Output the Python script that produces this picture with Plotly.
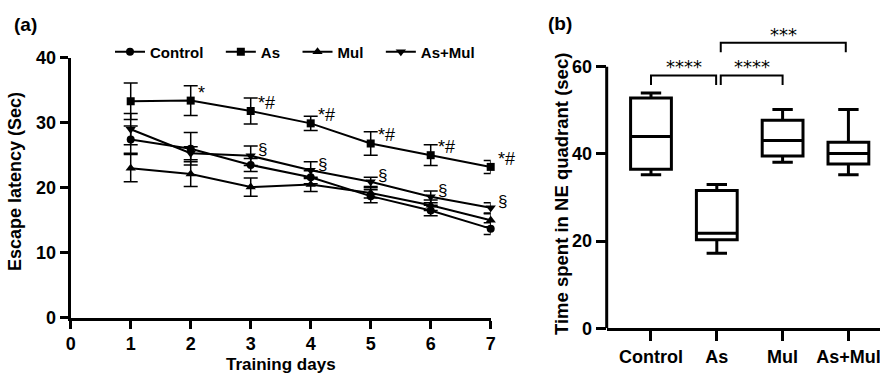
import plotly.graph_objects as go

# ---------------- data: panel (a) ----------------
days = [1, 2, 3, 4, 5, 6, 7]
control = [27.4, 26.0, 23.5, 21.6, 18.7, 16.5, 13.7]
control_err = [2.1, 2.5, 1.0, 1.0, 1.0, 0.8, 0.9]
as_vals = [33.3, 33.4, 31.8, 29.9, 26.8, 25.0, 23.2]
as_err = [2.8, 2.3, 2.0, 1.1, 1.8, 1.6, 1.0]
mul = [23.0, 22.1, 20.1, 20.5, 19.2, 17.3, 15.0]
mul_err = [2.1, 1.9, 1.4, 1.1, 0.8, 0.8, 1.0]
asmul = [29.0, 25.3, 24.9, 22.7, 20.9, 18.6, 16.9]
asmul_err = [2.4, 1.0, 1.5, 1.3, 0.7, 0.9, 0.8]
as_marks = ["", "*", "*#", "*#", "*#", "*#", "*#"]
asmul_marks = ["", "", "§", "§", "§", "§", "§"]
x_ticks_a = [0, 1, 2, 3, 4, 5, 6, 7]
y_ticks_a = [0, 10, 20, 30, 40]

# ---------------- data: panel (b) ----------------
groups = ["Control", "As", "Mul", "As+Mul"]
b_min = [35.2, 17.2, 38.1, 35.2]
b_q1 = [36.5, 20.3, 39.5, 37.7]
b_median = [44.0, 21.8, 43.1, 40.1]
b_q3 = [52.8, 31.6, 47.7, 42.7]
b_max = [54.0, 33.0, 50.2, 50.2]
y_ticks_b = [0, 20, 40, 60]
comparisons = [(0, 1, "****", 58.0), (1, 2, "****", 58.0), (1, 3, "***", 65.5)]

FONT = "Arial, Liberation Sans, sans-serif"
W, H = 880, 376
NB = "\u00a0"

fig = go.Figure()

series = [
    ("Control", control, control_err, "circle", 8),
    ("As", as_vals, as_err, "square", 8),
    ("Mul", mul, mul_err, "triangle-up", 9),
    ("As+Mul", asmul, asmul_err, "triangle-down", 9),
]
for name, vals, err, sym, sz in series:
    fig.add_trace(go.Scatter(
        x=days, y=vals, name=name + NB * 3, mode="lines+markers",
        line=dict(color="black", width=2),
        marker=dict(symbol=sym, size=sz, color="black"),
        error_y=dict(type="data", array=err, color="black", thickness=1.5, width=7),
        cliponaxis=False, xaxis="x", yaxis="y",
    ))

fig.add_trace(go.Box(
    x=groups, q1=b_q1, median=b_median, q3=b_q3,
    lowerfence=b_min, upperfence=b_max,
    fillcolor="white", line=dict(color="black", width=3),
    whiskerwidth=0.5, width=0.62, boxpoints=False,
    showlegend=False, xaxis="x2", yaxis="y2",
))

annotations = []
# significance marks, panel (a)
for d, v, m in zip(days, as_vals, as_marks):
    if m:
        annotations.append(dict(x=d, y=v, xref="x", yref="y", text=m, showarrow=False,
                                xanchor="left", yanchor="middle", xshift=5, yshift=8,
                                font=dict(family=FONT, size=18, color="black")))
for d, v, m in zip(days, asmul, asmul_marks):
    if m:
        annotations.append(dict(x=d, y=v, xref="x", yref="y", text=m, showarrow=False,
                                xanchor="left", yanchor="middle", xshift=5, yshift=6,
                                font=dict(family=FONT, size=17, color="black")))

shapes = []
# panel (b) left axis line (0..60)
shapes.append(dict(type="line", xref="paper", yref="y2", x0=606.7 / W, x1=606.7 / W,
                   y0=0, y1=60, line=dict(color="black", width=3)))
# comparison brackets
for i, j, lab, top in comparisons:
    leg = 2.2
    x0 = i + (0.06 if i == 1 else 0.0)
    x1 = j - (0.04 if (i == 1 and j == 3) else 0.0)
    if i == 0:
        x1 = j - 0.01
    shapes.append(dict(type="path", xref="x2", yref="y2",
                       path=f"M {x0},{top-leg} L {x0},{top} L {x1},{top} L {x1},{top-leg}",
                       line=dict(color="black", width=2)))
    annotations.append(dict(x=(x0 + x1) / 2, y=top + 2.9, xref="x2", yref="y2", text=lab,
                            showarrow=False, yanchor="middle", yshift=-4,
                            font=dict(family="DejaVu Sans", size=18, color="black")))

# titles / panel labels
annotations += [
    dict(x=12 / W, y=1 - 25 / H, xref="paper", yref="paper", text="<b>(a)</b>", showarrow=False,
         xanchor="left", yanchor="middle", font=dict(family=FONT, size=19, color="black")),
    dict(x=546 / W, y=1 - 24 / H, xref="paper", yref="paper", text="<b>(b)</b>", showarrow=False,
         xanchor="left", yanchor="middle", font=dict(family=FONT, size=19, color="black")),
    dict(x=15 / W, y=1 - 182 / H, xref="paper", yref="paper", text="<b>Escape latency (Sec)</b>",
         showarrow=False, textangle=-90, xanchor="center", yanchor="middle",
         font=dict(family=FONT, size=18, color="black")),
    dict(x=281 / W, y=1 - 364 / H, xref="paper", yref="paper", text="<b>Training days</b>",
         showarrow=False, xanchor="center", yanchor="middle",
         font=dict(family=FONT, size=17, color="black")),
    dict(x=561 / W, y=1 - 194 / H, xref="paper", yref="paper",
         text="<b>Time spent in NE quadrant (sec)</b>",
         showarrow=False, textangle=-90, xanchor="center", yanchor="middle",
         font=dict(family=FONT, size=18.5, color="black")),
]

tickfont_a = dict(family=FONT, size=18, color="black", weight="bold")
tickfont_b = dict(family=FONT, size=18, color="black", weight="bold")
axis_common = dict(showline=True, linecolor="black", linewidth=3, ticks="outside",
                   tickwidth=3, tickcolor="black", showgrid=False, zeroline=False,
                   automargin=False)
fig.update_layout(
    width=W, height=H, margin=dict(l=0, r=0, t=0, b=0, pad=0),
    paper_bgcolor="white", plot_bgcolor="white",
    font=dict(family=FONT, color="black"),
    showlegend=True,
    legend=dict(orientation="h", x=110 / W, y=1 - 52 / H, xanchor="left", yanchor="middle",
                font=dict(family=FONT, size=15, color="black", weight="bold"),
                bgcolor="rgba(0,0,0,0)", itemwidth=30),
    xaxis=dict(domain=[70.7 / W, 490.7 / W], range=[0, 7], tickvals=x_ticks_a,
               ticklen=8, tickfont=tickfont_a, anchor="y", **axis_common),
    yaxis=dict(domain=[(H - 317.7) / H, (H - 57.7) / H], range=[0, 40], tickvals=y_ticks_a,
               ticklen=8, tickfont=tickfont_a, anchor="x", **axis_common),
    xaxis2=dict(domain=[606.7 / W, 1.0], range=[-0.673, 3.48], type="category",
                ticklen=10, tickfont=tickfont_b, anchor="y2", **axis_common),
    yaxis2=dict(domain=[(H - 328.3) / H, (H - 14.4) / H], range=[0, 72], tickvals=y_ticks_b,
                ticklen=10, tickfont=tickfont_b, anchor="x2",
                **{**axis_common, "showline": False}),
    annotations=annotations, shapes=shapes,
)

fig.write_html("out.html", config={"displayModeBar": False},
               post_script="document.body.style.margin='0';document.body.style.overflow='hidden';")
